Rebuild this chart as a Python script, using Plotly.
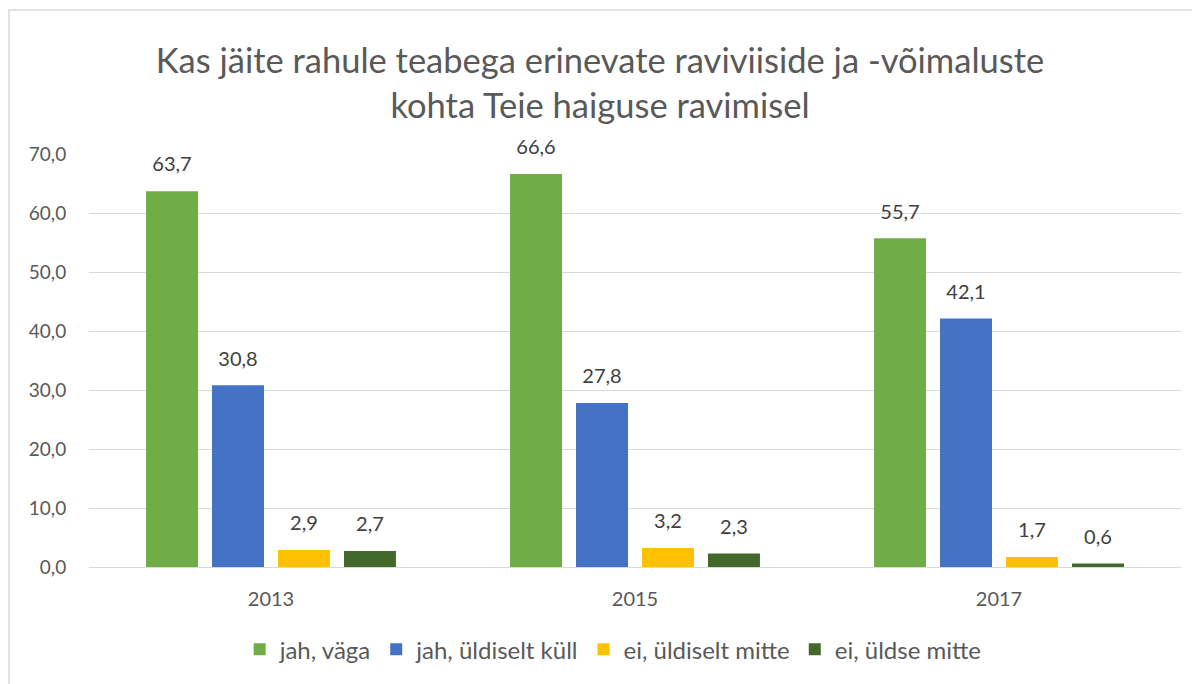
import plotly.graph_objects as go

years = ["2013", "2015", "2017"]
series_names = ["jah, väga", "jah, üldiselt küll", "ei, üldiselt mitte", "ei, üldse mitte"]
jah_vaga = [63.7, 66.6, 55.7]
jah_uldiselt = [30.8, 27.8, 42.1]
ei_uldiselt = [2.9, 3.2, 1.7]
ei_uldse = [2.7, 2.3, 0.6]
colors = ["#70AD47", "#4472C4", "#FFC000", "#43682B"]

FONT = "Lato"
OFF = 8  # page body margin offset
fig = go.Figure()
all_vals = [jah_vaga, jah_uldiselt, ei_uldiselt, ei_uldse]
for name, vals, col in zip(series_names, all_vals, colors):
    fig.add_trace(go.Bar(
        x=years, y=vals, name=name, marker=dict(color=col, line=dict(width=0)),
    ))
for name, vals in zip(series_names, all_vals):
    fig.add_trace(go.Scatter(
        x=years, y=vals, mode="markers+text", showlegend=False, hoverinfo="skip",
        marker=dict(size=22, color="rgba(0,0,0,0)"),
        texttemplate="%{y:.1f}", textposition="top center", cliponaxis=False,
        textfont=dict(family=FONT, size=20, color="#404040"),
    ))

fig.update_layout(
    width=1200, height=684,
    paper_bgcolor="white", plot_bgcolor="white",
    margin=dict(l=89 - OFF, r=27, t=154 - OFF, b=125),
    separators=", ",
    barmode="group", bargap=0.275, bargroupgap=0.212,
    scattermode="group", scattergap=0.275,
    title=dict(
        text="Kas jäite rahule teabega erinevate raviviiside ja -võimaluste<br>kohta Teie haiguse ravimisel",
        x=0.5 - OFF / 1200, xref="container", xanchor="center",
        y=1 - (73 - OFF) / 684, yref="container", yanchor="middle",
        font=dict(family=FONT, size=34.5, color="#595959"),
    ),
    font=dict(family=FONT, color="#595959"),
    legend=dict(orientation="h", x=0.48, xanchor="center", y=-0.2, yanchor="middle",
                font=dict(family=FONT, size=24, color="#595959"), itemwidth=30,
                traceorder="normal"),
    xaxis=dict(showline=False, ticks="outside", ticklen=14, tickcolor="white",
               tickfont=dict(family=FONT, size=20, color="#595959")),
    yaxis=dict(range=[0, 70], dtick=10, tickformat=".1f", showgrid=True, gridcolor="#D9D9D9",
               gridwidth=1.3, zeroline=True, zerolinecolor="#D9D9D9", zerolinewidth=1.3,
               ticks="outside", ticklen=18, tickcolor="white",
               tickfont=dict(family=FONT, size=19, color="#595959")),
    shapes=[dict(type="rect", xref="paper", yref="paper",
                 x0=(1 - (89 - OFF)) / 1092, x1=1.2, y0=-0.6, y1=1 + (154 - 10) / 413,
                 line=dict(color="#D9D9D9", width=1.5), fillcolor="rgba(0,0,0,0)", layer="below")],
)

fig.write_html("out.html")
